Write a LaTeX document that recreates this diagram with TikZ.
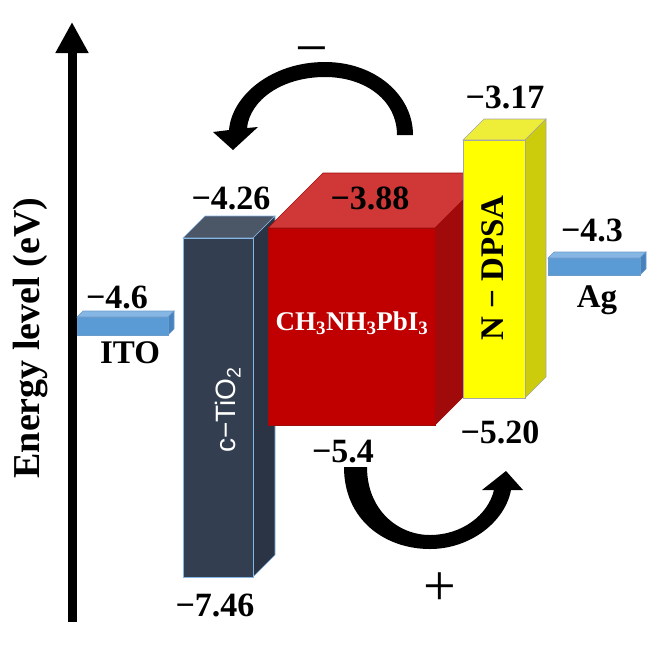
\documentclass[tikz,border=0pt]{standalone}
\usepackage{fontspec}
\setmainfont{Liberation Serif}
\newfontfamily\sansfont{Liberation Sans}
\usetikzlibrary{arrows.meta}

\definecolor{metalfront}{HTML}{5B9BD5}
\definecolor{metaltop}{HTML}{86B6E4}
\definecolor{metalside}{HTML}{4682BE}
\definecolor{tiofront}{HTML}{333F50}
\definecolor{tiotop}{HTML}{4B5667}
\definecolor{tioside}{HTML}{2A3444}
\definecolor{perofront}{HTML}{C00000}
\definecolor{perotop}{HTML}{D03838}
\definecolor{peroside}{HTML}{A00A0A}
\definecolor{dpsafront}{HTML}{FFFF00}
\definecolor{dpsatop}{HTML}{EEEE38}
\definecolor{dpsaside}{HTML}{CCCC0C}

\begin{document}
\begin{tikzpicture}[x=1pt,y=-1pt,
    val/.style={font=\bfseries\fontsize{34}{36}\selectfont, inner sep=0pt},
    layer/.style={font=\bfseries\fontsize{33}{35}\selectfont, inner sep=0pt},
    sign/.style={font=\fontsize{58}{60}\selectfont, inner sep=0pt},
    edge/.style={line width=0.6pt}]
\useasboundingbox (0,0) rectangle (658,646);

    % Energy axis
    \coordinate (axisbot) at (72,622);
    \coordinate (axistop) at (72,22);
    \draw[line width=9pt, -{Triangle[width=31pt,length=31pt]}] (axisbot) -- (axistop);
    \node[layer, font=\bfseries\fontsize{38}{40}\selectfont, rotate=90] (energy) at (31,338) {Energy level (eV)};

    % ITO
    \filldraw[metaltop, draw=metalside!80, edge] (77,317) -- (83,311) -- (174,311) -- (168,317) -- cycle;
    \filldraw[metalside, draw=metalside!80, edge] (168,317) -- (174,311) -- (174,329) -- (168,335) -- cycle;
    \filldraw[metalfront, draw=metalside!80, edge] (77,317) rectangle (168,335);

    % c-TiO2
    \filldraw[tiotop, draw=metaltop, edge] (183,238) -- (205,216) -- (275,216) -- (253,238) -- cycle;
    \filldraw[tioside, draw=metaltop, edge] (253,238) -- (275,216) -- (275,555) -- (253,577) -- cycle;
    \filldraw[tiofront, draw=metaltop, edge] (183,238) rectangle (253,577);

    % Perovskite
    \filldraw[perotop, draw=peroside, edge] (268,228) -- (323,173) -- (490,173) -- (435,228) -- cycle;
    \filldraw[peroside, draw=peroside, edge] (435,228) -- (490,173) -- (490,370) -- (435,425) -- cycle;
    \filldraw[perofront, draw=peroside, edge] (268,228) rectangle (435,425);

    % N-DPSA
    \filldraw[dpsatop, draw=gray!70, edge] (463,140) -- (484,119) -- (546,119) -- (525,140) -- cycle;
    \filldraw[dpsaside, draw=gray!70, edge] (525,140) -- (546,119) -- (546,377) -- (525,398) -- cycle;
    \filldraw[dpsafront, draw=gray!70, edge] (463,140) rectangle (525,398);

    % Ag
    \filldraw[metaltop, draw=metalside!80, edge] (548,258) -- (554,252) -- (646,252) -- (640,258) -- cycle;
    \filldraw[metalside, draw=metalside!80, edge] (640,258) -- (646,252) -- (646,269) -- (640,275) -- cycle;
    \filldraw[metalfront, draw=metalside!80, edge] (548,258) rectangle (640,275);

    % Electron transfer arrow
    \fill (413,135) .. controls (413,95) and (375,62) .. (325,62)
        .. controls (272,62) and (232,95) .. (229,130) -- (213,132) -- (233,150) -- (258,127)
        -- (247,128) .. controls (250,100) and (282,77) .. (325,77)
        .. controls (365,77) and (397,100) .. (397,135) -- cycle;

    % Hole transfer arrow
    \fill (344,467) .. controls (344,520) and (385,549) .. (430,549)
        .. controls (470,549) and (505,522) .. (511,490) -- (523,490) -- (506,471) -- (482,490)
        -- (494,490) .. controls (488,515) and (462,535) .. (430,535)
        .. controls (398,535) and (367,510) .. (367,467) -- cycle;

    % Layer names
    \node[layer] (ito) at (130,353) {ITO};
    \node[font=\sansfont\fontsize{28}{30}\selectfont, text=white, rotate=90, inner sep=0pt] (tio) at (228,410) {c−TiO\textsubscript{2}};
    \node[font=\bfseries\fontsize{27}{29}\selectfont, text=white, inner sep=0pt] (pero) at (352,323) {CH\textsubscript{3}NH\textsubscript{3}PbI\textsubscript{3}};
    \node[layer, rotate=90] (dpsa) at (493,268) {N − DPSA};
    \node[layer] (ag) at (597,300) {Ag};

    % Energy values
    \node[val] (itoval) at (117,297) {−4.6};
    \node[val] (tiotop) at (231,198) {−4.26};
    \node[val] (tiobot) at (215,605) {−7.46};
    \node[val] (perotop) at (370,198) {−3.88};
    \node[val] (perobot) at (343,452) {−5.4};
    \node[val] (dpsatop) at (505,97) {−3.17};
    \node[val] (dpsabot) at (500,432) {−5.20};
    \node[val] (agval) at (592,230) {−4.3};

    % Charge signs
    \node[sign] (minus) at (312,57) {−};
    \node[sign] (plus) at (440,589) {+};

\end{tikzpicture}
\end{document}
